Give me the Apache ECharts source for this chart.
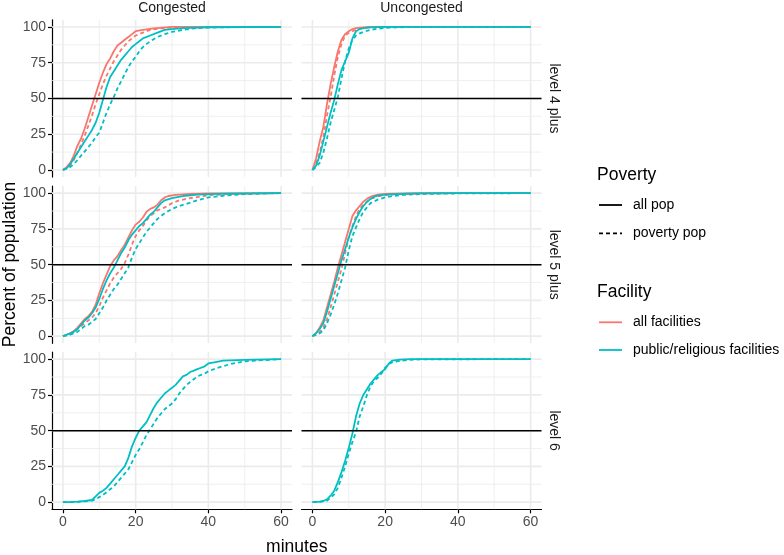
<!DOCTYPE html>
<html><head><meta charset="utf-8">
<script src="https://cdn.jsdelivr.net/npm/echarts@6/dist/echarts.min.js"></script>
<style>html,body{margin:0;padding:0;background:#fff}#c{width:784px;height:555px}</style>
</head><body><div id="c"></div>
<script>
// ---- ticks / labels ----
const xTicks = [0, 20, 40, 60];
const xMinor = [10, 30, 50];
const yTicks = [0, 25, 50, 75, 100];
const yMinor = [12.5, 37.5, 62.5, 87.5];
const colTitles = ['Congested', 'Uncongested'];
const rowTitles = ['level 4 plus', 'level 5 plus', 'level 6'];
const refLine = 50;
const povertyLabels = ['all pop', 'poverty pop'];
const facilityLabels = ['all facilities', 'public/religious facilities'];

// ---- data: [minutes, percent] ----
// Congested, level 4 plus
const c4_allFac_allPop = [[0,0],[1,2],[2,5],[3,10],[4,17],[5,22],[6,29],[7,37],[8,45],[9,53],[10,61],[11,68],[12,74],[13,78],[14,83],[15,87],[16,89],[17,91],[18,93],[19,95],[20,97],[22,98],[25,99],[30,100],[60,100]];
const c4_allFac_povPop = [[0,0],[1,1],[2,3],[3,7],[4,12],[5,18],[6,24],[7,31],[8,38],[9,46],[10,53],[11,60],[12,66],[13,71],[14,76],[15,80],[16,84],[17,87],[18,90],[19,92],[20,94],[22,96],[24,98],[27,99],[32,100],[60,100]];
const c4_pubFac_allPop = [[0,0],[1,1],[2,4],[3,8],[4,12],[5,16],[6,20],[7,24],[8,28],[9,33],[10,40],[11,49],[12,58],[13,65],[14,69],[15,73],[16,77],[17,80],[18,83],[19,86],[20,88],[21,90],[22,92],[24,94],[26,96],[28,98],[30,98.5],[33,99.2],[40,99.8],[60,100]];
const c4_pubFac_povPop = [[0,0],[1,1],[2,2],[3,4],[4,7],[5,10],[6,13],[7,16],[8,19],[9,23],[10,26],[11,33],[12,40],[13,46],[14,51],[15,57],[16,62],[17,67],[18,72],[19,76],[20,79],[21,83],[22,86],[23,88],[24,90],[26,93],[28,95],[30,96.5],[33,98],[36,99],[40,99.5],[45,99.8],[60,100]];
// Uncongested, level 4 plus
const u4_allFac_allPop = [[0,0],[1,8],[2,20],[3,30],[4,46],[5,60],[6,72],[7,83],[8,91],[9,95],[10,97],[11,98.5],[12,99.2],[14,99.7],[16,100],[60,100]];
const u4_allFac_povPop = [[0,0],[1,5],[2,12],[3,23],[4,38],[5,51],[6,66],[7,79],[8,88],[9,94],[10,96],[11,97],[12,98],[14,99.3],[16,99.8],[20,100],[60,100]];
const u4_pubFac_allPop = [[0,0],[1,3],[2,10],[3,20],[4,30],[5,40],[6,49],[7,60],[8,70],[9,76],[10,82],[11,92],[12,97],[13,98.5],[14,99.2],[16,99.7],[20,100],[60,100]];
const u4_pubFac_povPop = [[0,0],[1,2],[2,5],[3,12],[4,22],[5,33],[6,42],[7,51],[8,64],[9,76],[10,85],[11,91],[12,94],[13,95.5],[14,96.5],[16,98],[18,98.8],[20,99.3],[23,99.7],[27,100],[60,100]];
// Congested, level 5 plus
const c5_allFac_allPop = [[0,0],[1,1],[2,2],[3,3.5],[4,6],[5,9],[6,12],[7,14],[8,17],[9,22],[10,30],[11,37],[12,43],[13,49],[14,53],[15,56],[16,60],[17,64],[18,69],[19,74],[20,78],[21,80],[22,83],[23,87],[24,89],[25,90],[26,92],[27,95],[28,97],[29,98],[31,98.8],[35,99.4],[40,99.8],[60,100]];
const c5_allFac_povPop = [[0,0],[1,0.5],[2,1.5],[3,3],[4,5],[5,7],[6,9],[7,11],[8,13],[9,16],[10,21],[11,27],[12,32],[13,37],[14,41],[15,44],[16,47],[17,51],[18,57],[19,64],[20,70],[21,74],[22,77],[23,81],[24,84],[25,86],[26,88],[27,89],[28,90],[30,93],[32,95],[35,96.5],[40,98.5],[45,99.3],[50,99.7],[60,100]];
const c5_pubFac_allPop = [[0,0],[1,1],[2,2],[3,3],[4,5],[5,8],[6,11],[7,13],[8,16],[9,20],[10,26],[11,33],[12,39],[13,44],[14,48],[15,53],[16,58],[17,62],[18,67],[19,71],[20,74],[21,77],[22,79],[23,82],[24,85],[25,87],[26,90],[27,93],[28,95],[30,96.5],[33,98],[37,99],[45,99.7],[60,100]];
const c5_pubFac_povPop = [[0,0],[1,0.5],[2,1],[3,2],[4,3],[5,5],[6,7],[7,8],[8,10],[9,12],[10,16],[11,20],[12,25],[13,29],[14,33],[15,36],[16,40],[17,44],[18,48],[19,55],[20,61],[21,65],[22,69],[23,73],[24,76],[25,79],[26,82],[27,84],[28,86],[30,89],[32,91],[34,92.5],[37,95],[40,97],[45,98.5],[50,99.3],[60,100]];
// Uncongested, level 5 plus
const u5_allFac_allPop = [[0,0],[1,2],[2,6],[3,11],[4,20],[5,29],[6,38],[7,48],[8,57],[9,66],[10,75],[11,84],[12,88],[13,91],[14,94],[15,96],[16,97.5],[18,99],[20,99.5],[25,99.8],[30,100],[60,100]];
const u5_allFac_povPop = [[0,0],[1,1],[2,3],[3,6],[4,12],[5,20],[6,29],[7,38],[8,47],[9,58],[10,69],[11,77],[12,84],[13,89],[14,92],[15,94],[16,96],[18,97.8],[20,98.7],[24,99.5],[30,99.8],[40,100],[60,100]];
const u5_pubFac_allPop = [[0,0],[1,2],[2,5],[3,9],[4,17],[5,26],[6,35],[7,44],[8,53],[9,61],[10,69],[11,76],[12,82],[13,87],[14,91],[15,94],[16,96],[17,97.5],[18,98.3],[20,99],[25,99.5],[30,99.8],[40,100],[60,100]];
const u5_pubFac_povPop = [[0,0],[1,1],[2,2],[3,4],[4,9],[5,15],[6,22],[7,30],[8,39],[9,48],[10,60],[11,70],[12,76],[13,82],[14,87],[15,90],[16,93],[18,95.5],[20,97],[22,98],[25,98.8],[30,99.4],[40,99.8],[60,100]];
// Congested, level 6 (public/religious only)
const c6_pubFac_allPop = [[0,0],[2,0],[4,0.3],[6,0.8],[8,1.5],[9,4],[10,6.5],[11,8],[12,10],[13,13],[14,16],[15,19],[16,22],[17,25],[18,31],[19,39],[20,45],[21,50],[22,53],[23,56],[24,61],[25,66],[26,70],[27,73],[28,76],[29,78],[30,80],[31,82],[32,85],[33,88],[34,89],[35,91],[36,92],[37,93],[38,94],[39,95],[40,97],[42,98],[44,99],[50,99.5],[60,100]];
const c6_pubFac_povPop = [[0,0],[2,0],[4,0.2],[6,0.5],[8,1],[9,2],[10,3.5],[11,5],[12,7],[13,9],[14,11],[15,14],[16,17],[17,20],[18,23],[19,28],[20,33],[21,37],[22,42],[23,47],[24,51],[25,55],[26,59],[27,62],[28,65],[29,67],[30,69],[31,72],[32,76],[33,79],[34,82],[35,84],[36,86],[37,88],[38,89],[39,90],[40,91.5],[42,93.5],[44,95],[46,96.5],[48,97.5],[50,98.5],[55,99.3],[60,100]];
// Uncongested, level 6
const u6_pubFac_allPop = [[0,0],[1,0.2],[2,0.4],[3,0.8],[4,2],[5,4.5],[6,8],[7,14],[8,21],[9,29],[10,38],[11,48],[12,60],[13,69],[14,75],[15,79],[16,83],[17,86],[18,89],[19,91],[20,93],[21,97],[22,99],[24,99.7],[27,100],[60,100]];
const u6_pubFac_povPop = [[0,0],[1,0],[2,0.2],[3,0.5],[4,1],[5,3],[6,5.5],[7,10],[8,17],[9,25],[10,34],[11,42],[12,49],[13,60],[14,67],[15,75],[16,81],[17,85],[18,87],[19,90],[20,94],[21,96.5],[22,97.8],[24,98.8],[27,99.5],[30,99.9],[60,100]];

// ---- styling ----
const RED = '#F8766D', TEAL = '#00BFC4';
const FONT = "'Liberation Sans', Arial, sans-serif";
const LW = 1.8, DASH = [4, 3];
const colLeft = [52, 301.5], panelW = 240;
const rowTop = [19.8, 186.0, 352.0], panelH = 157.3;
const XMIN = -3, XMAX = 63, YMIN = -5, YMAX = 105;

// panel -> lines, built from the named arrays
const panels = [
  {r:0,c:0,lines:[[c4_allFac_allPop,RED,false],[c4_allFac_povPop,RED,true],[c4_pubFac_allPop,TEAL,false],[c4_pubFac_povPop,TEAL,true]]},
  {r:0,c:1,lines:[[u4_allFac_allPop,RED,false],[u4_allFac_povPop,RED,true],[u4_pubFac_allPop,TEAL,false],[u4_pubFac_povPop,TEAL,true]]},
  {r:1,c:0,lines:[[c5_allFac_allPop,RED,false],[c5_allFac_povPop,RED,true],[c5_pubFac_allPop,TEAL,false],[c5_pubFac_povPop,TEAL,true]]},
  {r:1,c:1,lines:[[u5_allFac_allPop,RED,false],[u5_allFac_povPop,RED,true],[u5_pubFac_allPop,TEAL,false],[u5_pubFac_povPop,TEAL,true]]},
  {r:2,c:0,lines:[[c6_pubFac_allPop,TEAL,false],[c6_pubFac_povPop,TEAL,true]]},
  {r:2,c:1,lines:[[u6_pubFac_allPop,TEAL,false],[u6_pubFac_povPop,TEAL,true]]}
];

const grid = [], xAxis = [], yAxis = [], series = [];
function gl(i, data, w, z, color, dash) {
  series.push({type:'line', xAxisIndex:i, yAxisIndex:i, data:data, showSymbol:false, symbol:'none',
    silent:true, z:z, lineStyle:{color:color, width:w, type: dash ? dash : 'solid'}, animation:false});
}
panels.forEach((p, i) => {
  grid.push({left: colLeft[p.c], top: rowTop[p.r], width: panelW, height: panelH, containLabel:false});
  const bottom = p.r === 2, left = p.c === 0;
  xAxis.push({type:'value', gridIndex:i, min:XMIN, max:XMAX,
    axisLine:{show:bottom, onZero:false, lineStyle:{color:'#000', width:1.2}},
    axisTick:{show:bottom, length:4, customValues:xTicks, lineStyle:{color:'#000', width:1.2}},
    axisLabel:{show:bottom, customValues:xTicks, color:'#4d4d4d', fontSize:14, fontFamily:FONT, margin:6},
    splitLine:{show:false}, minorSplitLine:{show:false}});
  yAxis.push({type:'value', gridIndex:i, min:YMIN, max:YMAX,
    axisLine:{show:left, onZero:false, lineStyle:{color:'#000', width:1.2}},
    axisTick:{show:left, length:4, customValues:yTicks, lineStyle:{color:'#000', width:1.2}},
    axisLabel:{show:left, customValues:yTicks, color:'#4d4d4d', fontSize:14, fontFamily:FONT, margin:6},
    splitLine:{show:false}, minorSplitLine:{show:false}});
  // grid lines
  xMinor.forEach(v => gl(i, [[v,YMIN],[v,YMAX]], 0.8, 1, '#ebebeb'));
  yMinor.forEach(v => gl(i, [[XMIN,v],[XMAX,v]], 0.8, 1, '#ebebeb'));
  xTicks.forEach(v => gl(i, [[v,YMIN],[v,YMAX]], 1.6, 1, '#ebebeb'));
  yTicks.forEach(v => gl(i, [[XMIN,v],[XMAX,v]], 1.6, 1, '#ebebeb'));
  // data lines
  p.lines.forEach(l => {
    series.push({type:'line', xAxisIndex:i, yAxisIndex:i, data:l[0], showSymbol:false, symbol:'none',
      z:3, animation:false, lineStyle:{color:l[1], width:LW, type: l[2] ? DASH : 'solid'}});
  });
  // reference line at 50
  gl(i, [[XMIN,refLine],[XMAX,refLine]], 1.5, 4, '#000');
});

const graphic = [];
function txt(x, y, text, size, color, rot, align) {
  graphic.push({type:'text', x:x, y:y, rotation:rot||0,
    style:{text:text, fontSize:size, fontFamily:FONT, fill:color, align:align||'center', verticalAlign:'middle'}});
}
colTitles.forEach((t, c) => txt(colLeft[c] + panelW/2, 8, t, 14, '#1a1a1a'));
rowTitles.forEach((t, r) => txt(554, rowTop[r] + panelH/2, t, 14, '#1a1a1a', -Math.PI/2));
txt(10, (rowTop[0] + rowTop[2] + panelH)/2, 'Percent of population', 17.5, '#000', Math.PI/2);
txt((colLeft[0] + colLeft[1] + panelW)/2, 547, 'minutes', 17.5, '#000');
// legends
txt(597, 175, 'Poverty', 17.5, '#000', 0, 'left');
const legY1 = [205, 233.3];
povertyLabels.forEach((t, k) => {
  graphic.push({type:'line', shape:{x1:599, y1:legY1[k], x2:622, y2:legY1[k]},
    style:{stroke:'#000', lineWidth:LW, lineDash: k ? DASH : null}});
  txt(633, legY1[k], t, 14, '#000', 0, 'left');
});
txt(597, 292, 'Facility', 17.5, '#000', 0, 'left');
const legY2 = [322.3, 350];
facilityLabels.forEach((t, k) => {
  graphic.push({type:'line', shape:{x1:599, y1:legY2[k], x2:622, y2:legY2[k]},
    style:{stroke: k ? TEAL : RED, lineWidth:LW}});
  txt(633, legY2[k], t, 14, '#000', 0, 'left');
});

const chart = echarts.init(document.getElementById('c'), null, {renderer:'canvas'});
chart.setOption({animation:false, backgroundColor:'#fff', grid, xAxis, yAxis, series, graphic});
</script></body></html>
